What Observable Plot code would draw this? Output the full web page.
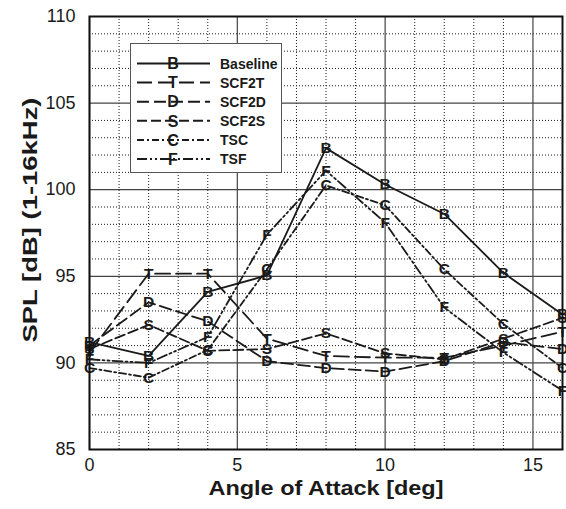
<!DOCTYPE html>
<html>
<head>
<meta charset="utf-8">
<script src="https://cdn.jsdelivr.net/npm/d3@7"></script>
<script src="https://cdn.jsdelivr.net/npm/@observablehq/plot@0.6"></script>
<style>
  html, body { margin: 0; padding: 0; background: #fff; }
  #wrap { position: relative; width: 566px; height: 509px; font-family: "Liberation Sans", Arial, sans-serif; }
  #legend { position: absolute; left: 130px; top: 43px; width: 152px; height: 130px; background: #fff; border: 1.5px solid #555; box-sizing: border-box; }
</style>
</head>
<body>
<div id="wrap"></div>
<script>
const angles = [0, 2, 4, 6, 8, 10, 12, 14, 16];
const baseline = [91.2, 90.4, 94.1, 95.05, 102.4, 100.3, 98.6, 95.2, 92.8];
const scf2t    = [90.6, 95.15, 95.15, 91.4, 90.4, 90.3, 90.3, 91.0, 91.8];
const scf2d    = [91.0, 93.5, 92.4, 90.1, 89.7, 89.5, 90.1, 91.2, 90.8];
const scf2s    = [90.8, 92.2, 90.7, 90.8, 91.7, 90.55, 90.2, 91.4, 92.6];
const tsc      = [89.7, 89.15, 90.75, 95.4, 100.25, 99.1, 95.4, 92.25, 89.7];
const tsf      = [90.2, 90.0, 91.5, 97.4, 101.1, 98.1, 93.2, 90.6, 88.4];

const seriesNames = ["Baseline", "SCF2T", "SCF2D", "SCF2S", "TSC", "TSF"];
const seriesLetters = ["B", "T", "D", "S", "C", "F"];
const seriesValues = [baseline, scf2t, scf2d, scf2s, tsc, tsf];
const seriesDash = [null, "15,6", "12,5", "10,4", "7,3,2,3", "10,3,2,3,2,3"];

const xTicks = [0, 5, 10, 15];
const yTicks = [85, 90, 95, 100, 105, 110];
const xMinor = d3.range(0, 17, 1);
const yMinor = d3.range(85, 111, 1);
const xTitle = "Angle of Attack [deg]";
const yTitle = "SPL [dB] (1-16kHz)";

const rows = [];
seriesNames.forEach((name, i) => {
  angles.forEach((a, j) => rows.push({series: name, letter: seriesLetters[i], x: a, y: seriesValues[i][j]}));
});

const ink = "#1a1a1a";
const marks = [
  Plot.ruleX(xMinor.filter(v => !xTicks.includes(v)), {stroke: ink, strokeDasharray: "1,2", strokeWidth: 1}),
  Plot.ruleY(yMinor.filter(v => !yTicks.includes(v)), {stroke: ink, strokeDasharray: "1,2", strokeWidth: 1}),
  Plot.ruleX(xTicks, {stroke: "#444", strokeWidth: 1.2}),
  Plot.ruleY(yTicks, {stroke: "#444", strokeWidth: 1.2})
];
seriesNames.forEach((name, i) => {
  marks.push(Plot.line(rows.filter(r => r.series === name), {
    x: "x", y: "y", stroke: ink, strokeWidth: 1.8,
    strokeDasharray: seriesDash[i] || undefined
  }));
});
marks.push(Plot.text(rows, {x: "x", y: "y", text: "letter", fill: ink, fontSize: 15.5, fontWeight: "bold"}));
marks.push(Plot.frame({stroke: "#111", strokeWidth: 2}));
marks.push(Plot.axisX(xTicks, {tickSize: 0, tickPadding: 9, fontSize: 18, label: null, fill: ink}));
marks.push(Plot.axisY(yTicks, {tickSize: 0, tickPadding: 14, fontSize: 18, label: null, fill: ink}));
marks.push(Plot.text([xTitle], {frameAnchor: "bottom", dy: 45, fontSize: 20, fontWeight: "bold", fill: ink, className: "xtitle"}));
marks.push(Plot.text([yTitle], {frameAnchor: "left", textAnchor: "middle", dx: -59, dy: -13, rotate: -90, fontSize: 20, fontWeight: "bold", fill: ink, className: "ytitle"}));

const chart = Plot.plot({
  width: 566,
  height: 509,
  marginLeft: 89,
  marginRight: 4,
  marginTop: 16,
  marginBottom: 60,
  style: {fontFamily: "'Liberation Sans', Arial, sans-serif", background: "#fff"},
  x: {domain: [0, 16], axis: null},
  y: {domain: [85, 110], axis: null},
  marks
});

// stretch axis titles to the reference's lengths
chart.querySelectorAll(".xtitle text").forEach(t => { t.setAttribute("textLength", 235); t.setAttribute("lengthAdjust", "spacingAndGlyphs"); });
chart.querySelectorAll(".ytitle text").forEach(t => { t.setAttribute("textLength", 245); t.setAttribute("lengthAdjust", "spacingAndGlyphs"); });

const wrap = document.getElementById("wrap");
wrap.appendChild(chart);

// Legend
const legend = document.createElement("div");
legend.id = "legend";
const ns = "http://www.w3.org/2000/svg";
const lsvg = document.createElementNS(ns, "svg");
lsvg.setAttribute("width", 150);
lsvg.setAttribute("height", 128);
lsvg.style.position = "absolute";
lsvg.style.left = "0";
lsvg.style.top = "0";
seriesNames.forEach((name, i) => {
  const cy = 19.5 + i * 19.1;
  const ln = document.createElementNS(ns, "line");
  ln.setAttribute("x1", 6); ln.setAttribute("x2", 79);
  ln.setAttribute("y1", cy); ln.setAttribute("y2", cy);
  ln.setAttribute("stroke", ink); ln.setAttribute("stroke-width", 2);
  if (seriesDash[i]) ln.setAttribute("stroke-dasharray", seriesDash[i]);
  lsvg.appendChild(ln);
  const lt = document.createElementNS(ns, "text");
  lt.setAttribute("x", 42); lt.setAttribute("y", cy);
  lt.setAttribute("text-anchor", "middle"); lt.setAttribute("dy", "0.36em");
  lt.setAttribute("font-size", 16); lt.setAttribute("font-weight", "bold");
  lt.setAttribute("fill", ink);
  lt.setAttribute("font-family", "'Liberation Sans', Arial, sans-serif");
  lt.textContent = seriesLetters[i];
  lsvg.appendChild(lt);
  const tx = document.createElementNS(ns, "text");
  tx.setAttribute("x", 89); tx.setAttribute("y", cy);
  tx.setAttribute("dy", "0.36em");
  tx.setAttribute("font-size", 14); tx.setAttribute("font-weight", "bold");
  tx.setAttribute("fill", ink);
  tx.setAttribute("font-family", "'Liberation Sans', Arial, sans-serif");
  tx.textContent = name;
  lsvg.appendChild(tx);
});
legend.appendChild(lsvg);
wrap.appendChild(legend);
</script>
</body>
</html>
